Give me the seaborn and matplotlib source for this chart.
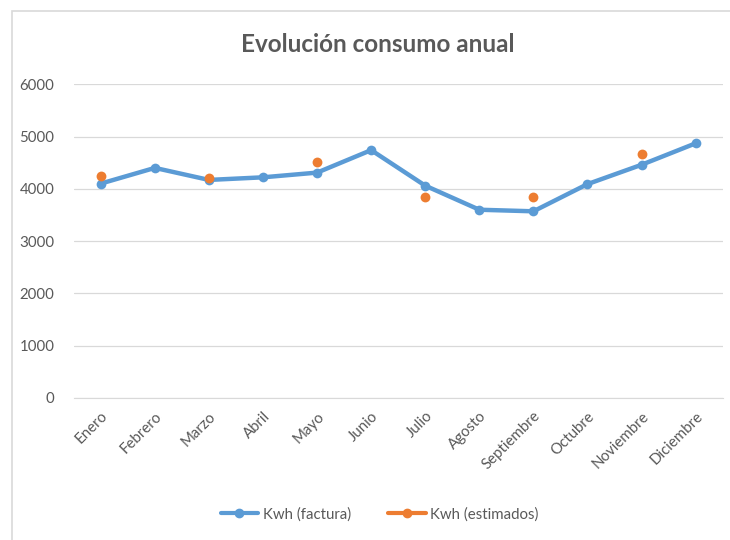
import numpy as np
import pandas as pd
import matplotlib
matplotlib.use("Agg")
import matplotlib.pyplot as plt
import seaborn as sns

meses = ["Enero", "Febrero", "Marzo", "Abril", "Mayo", "Junio", "Julio",
         "Agosto", "Septiembre", "Octubre", "Noviembre", "Diciembre"]
kwh_factura = [4100, 4400, 4170, 4220, 4310, 4740, 4060, 3600, 3570, 4090, 4460, 4870]
kwh_estimados = [4250, np.nan, 4200, np.nan, 4510, np.nan, 3840, np.nan, 3840, np.nan, 4660, np.nan]

df = pd.DataFrame({"mes": meses, "Kwh (factura)": kwh_factura,
                   "Kwh (estimados)": kwh_estimados})

sns.set_style("white")
plt.rcParams["font.family"] = ["Lato", "DejaVu Sans"]

gris = "#595959"
azul = "#5b9bd5"
naranja = "#ed7d31"

fig = plt.figure(figsize=(7.3, 5.4), dpi=100)
ax = fig.add_axes([0.101, 0.263, 0.889, 0.581])

x = np.arange(len(meses))
sns.lineplot(x=x, y=df["Kwh (factura)"], ax=ax, color=azul, linewidth=3.2,
             marker="o", markersize=7, markeredgewidth=0, label="Kwh (factura)")
sns.scatterplot(x=x, y=df["Kwh (estimados)"], ax=ax, color=naranja, s=50,
                linewidth=0, zorder=3, legend=False)

ax.set_xlim(-0.5, len(meses) - 0.5)
ax.set_ylim(0, 6000)
ax.set_yticks(range(0, 6001, 1000))
ax.set_xticks(x)
ax.set_xticklabels(meses, rotation=45, ha="right", rotation_mode="anchor")
ax.tick_params(axis="both", colors=gris, labelsize=10.8, length=0)
ax.tick_params(axis="x", pad=8)
ax.tick_params(axis="y", pad=14)
ax.grid(axis="y", color="#d9d9d9", linewidth=0.9)
for s in ["left", "right", "top"]:
    ax.spines[s].set_visible(False)
ax.spines["bottom"].set_color("#d9d9d9")
ax.set_xlabel("")
ax.set_ylabel("")

fig.text(0.518, 0.918, "Evolución consumo anual", ha="center", va="center",
         fontsize=17.5, fontweight="bold", color=gris)

h1 = plt.Line2D([], [], color=azul, linewidth=3, marker="o", markersize=6)
h2 = plt.Line2D([], [], color=naranja, linewidth=3, marker="o", markersize=6)
ax.legend([h1, h2], ["Kwh (factura)", "Kwh (estimados)"], loc="center",
          bbox_to_anchor=(0.52, 0.048), bbox_transform=fig.transFigure,
          ncol=2, frameon=False, fontsize=10.8, labelcolor=gris,
          handlelength=2.5, columnspacing=2.5, handletextpad=0.3)

fig.patches.append(plt.Rectangle((12 / 730, -0.1), 1.2, 1 - 11 / 540 + 0.1,
                                 transform=fig.transFigure, fill=False,
                                 edgecolor="#d9d9d9", linewidth=1.2))

fig.savefig("out.png", dpi=100)
